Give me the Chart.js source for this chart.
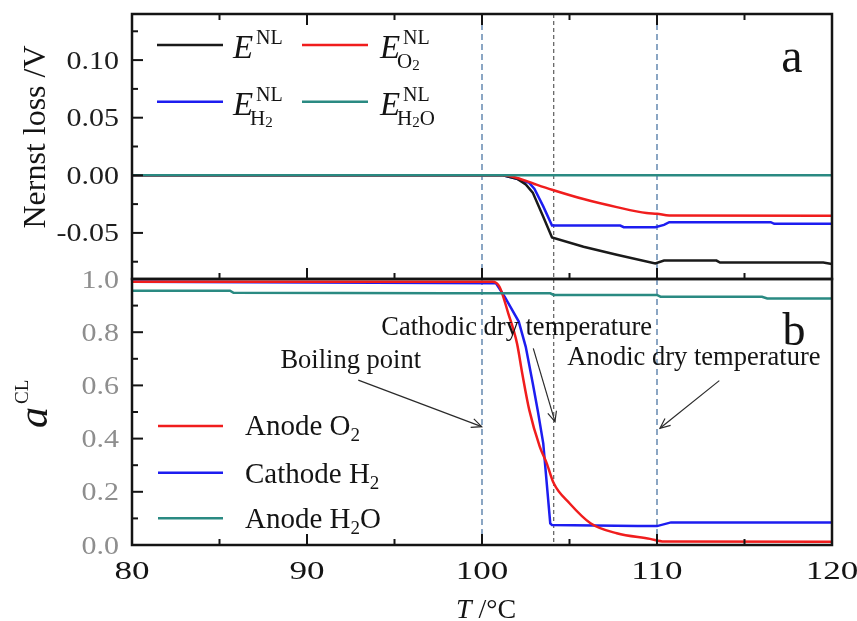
<!DOCTYPE html>
<html>
<head>
<meta charset="utf-8">
<script src="https://cdn.jsdelivr.net/npm/chart.js@4/dist/chart.umd.min.js"></script>
<style>
  html, body { margin: 0; padding: 0; background: #fff; }
  #wrap { position: relative; width: 857px; height: 621px; }
  #wrap canvas { position: absolute; left: 0; top: 0; }
</style>
</head>
<body>
<div id="wrap">
  <canvas id="panelA" width="857" height="621"></canvas>
  <canvas id="panelB" width="857" height="621"></canvas>
</div>
<script>
// ---- temperature axis ----
const tMin = 80, tMax = 120;
const xTicks = [80, 90, 100, 110, 120];
const markerTemps = [100, 104.1, 110];          // boiling point, cathodic dry, anodic dry

// ---- panel a: Nernst losses (V) ----
const nlTicks = [-0.05, 0.00, 0.05, 0.10];
const tENL  = [80, 101.2, 102.0, 102.5, 102.9, 103.5, 104.0, 105.8, 107.7, 109.9, 110.4, 113.4, 113.6, 119.5, 120];
const eNL   = [0, 0, -0.003, -0.008, -0.015, -0.036, -0.054, -0.062, -0.069, -0.0765, -0.074, -0.074, -0.0757, -0.0757, -0.077];
const tEO2  = [80, 101.2, 102.0, 103.0, 104.0, 105.8, 107.7, 109.4, 110.0, 110.7, 120];
const eO2   = [0, 0, -0.0023, -0.0075, -0.0125, -0.0206, -0.0276, -0.0328, -0.0334, -0.0349, -0.0352];
const tEH2  = [80, 101.2, 102.0, 102.7, 103.0, 103.5, 104.0, 107.9, 108.1, 109.9, 110.4, 110.7, 116.5, 116.7, 120];
const eH2   = [0, 0, -0.003, -0.0066, -0.0119, -0.027, -0.0436, -0.0436, -0.045, -0.045, -0.043, -0.0407, -0.0407, -0.0421, -0.0421];
const tEH2O = [80, 120];
const eH2O  = [0, 0];

// ---- panel b: activities in the catalyst layer ----
const aTicks = [0.0, 0.2, 0.4, 0.6, 0.8, 1.0];
const tAO2  = [80, 100.6, 101.0, 101.5, 102.0, 102.3, 102.7, 103.3, 103.7, 104.1, 105.0, 106.2, 107.7, 109.6, 110.4, 120];
const aO2   = [0.99, 0.99, 0.971, 0.871, 0.758, 0.645, 0.508, 0.37, 0.307, 0.232, 0.157, 0.082, 0.044, 0.023, 0.013, 0.012];
const tAH2  = [80, 100.8, 101.3, 102.1, 102.5, 102.9, 103.2, 103.5, 103.9, 104.0, 108.9, 110.0, 110.8, 120];
const aH2   = [0.99, 0.984, 0.933, 0.84, 0.745, 0.608, 0.5, 0.382, 0.0815, 0.075, 0.071, 0.071, 0.085, 0.085];
const tAH2O = [80, 85.6, 85.8, 98.0, 103.9, 104.1, 110.0, 110.2, 116.0, 116.3, 120];
const aH2O  = [0.956, 0.956, 0.948, 0.946, 0.946, 0.940, 0.940, 0.9335, 0.9335, 0.927, 0.927];

// ---- styling ----
const SERIF = "'Liberation Serif','Times New Roman',serif";
const INK = '#141414';
const C_BLACK = '#1a1a1a', C_RED = '#f01d1d', C_BLUE = '#1d1df0', C_TEAL = '#2a8a82';

const pts = (ts, vs) => ts.map((t, i) => ({ x: t, y: vs[i] }));

function minorsOf(major, lo, hi) {
  const out = [];
  const step = major[1] - major[0];
  for (let i = -1; i < major.length; i++) {
    const v = major[0] + (i + 0.5) * step;
    if (v > lo + 1e-9 && v < hi - 1e-9) out.push(+v.toFixed(4));
  }
  return out;
}

function txt(ctx, s, x, y, font, o = {}) {
  ctx.save();
  ctx.font = font;
  ctx.fillStyle = o.color || INK;
  ctx.textAlign = o.align || 'left';
  ctx.textBaseline = 'alphabetic';
  ctx.translate(x, y);
  if (o.rot) ctx.rotate(o.rot);
  ctx.scale(o.sx || 1, 1);
  ctx.fillText(s, 0, 0);
  ctx.restore();
}
function textW(ctx, s, font, sx = 1) {
  ctx.save(); ctx.font = font; const w = ctx.measureText(s).width; ctx.restore();
  return w * sx;
}

function seg(ctx, x1, y1, x2, y2) {
  ctx.beginPath(); ctx.moveTo(x1, y1); ctx.lineTo(x2, y2); ctx.stroke();
}

// frame, inward ticks and tick labels of a panel
function drawFrame(chart, cfg) {
  const { ctx, chartArea: a, scales } = chart;
  const xs = scales.x, ys = scales.y;
  ctx.save();
  ctx.strokeStyle = INK;
  ctx.lineWidth = 2;
  cfg.yMajor.forEach(v => { const p = ys.getPixelForValue(v); seg(ctx, a.left, p, a.left + 11, p); });
  cfg.yMinor.forEach(v => { const p = ys.getPixelForValue(v); seg(ctx, a.left, p, a.left + 6, p); });
  const xMinor = minorsOf(xTicks, tMin, tMax);
  cfg.xEdges.forEach(edge => {
    const py = edge === 'top' ? a.top : a.bottom;
    const d = edge === 'top' ? 1 : -1;
    xTicks.forEach(v => { const p = xs.getPixelForValue(v); seg(ctx, p, py, p, py + d * 11); });
    xMinor.forEach(v => { const p = xs.getPixelForValue(v); seg(ctx, p, py, p, py + d * 6); });
  });
  ctx.lineWidth = 2.5;
  ctx.strokeRect(a.left, a.top, a.right - a.left, a.bottom - a.top);
  ctx.restore();

  // y tick labels from the scale's own ticks
  const f = '25px ' + SERIF;
  ys.ticks.forEach(t => {
    const p = ys.getPixelForValue(t.value);
    txt(ctx, t.value.toFixed(cfg.decimals), 119, p + 8.5, f, { align: 'right', sx: 1.2, color: cfg.labelColor });
  });
}

function drawMarkers(chart) {
  const { ctx, chartArea: a, scales } = chart;
  ctx.save();
  markerTemps.forEach((t, i) => {
    const p = scales.x.getPixelForValue(t);
    ctx.strokeStyle = i === 1 ? '#3a3a3a' : '#5a80ab';
    ctx.lineWidth = i === 1 ? 1 : 1.4;
    ctx.setLineDash(i === 1 ? [4, 3] : [6, 4]);
    seg(ctx, p, a.top, p, a.bottom);
  });
  ctx.restore();
}

// E^NL with optional subscript pieces
function drawE(ctx, x, b, sub) {
  txt(ctx, 'E', x, b, 'italic 33px ' + SERIF);
  txt(ctx, 'NL', x + 23, b - 14, '20px ' + SERIF);
  let sx = x + 17;
  sub.forEach(([s, small]) => {
    const f = (small ? '15px ' : '21px ') + SERIF;
    txt(ctx, s, sx, b + (small ? 12 : 10), f);
    sx += textW(ctx, s, f);
  });
}

function arrow(ctx, x1, y1, x2, y2) {
  ctx.save();
  ctx.strokeStyle = '#2a2a2a';
  ctx.lineWidth = 1.2;
  seg(ctx, x1, y1, x2, y2);
  const ang = Math.atan2(y2 - y1, x2 - x1), L = 11, w = 0.42;
  ctx.beginPath();
  ctx.moveTo(x2 - L * Math.cos(ang - w), y2 - L * Math.sin(ang - w));
  ctx.lineTo(x2, y2);
  ctx.lineTo(x2 - L * Math.cos(ang + w), y2 - L * Math.sin(ang + w));
  ctx.stroke();
  ctx.restore();
}

// annotations in data coordinates of panel b
const notes = [
  { text: 'Boiling point',            t: 92.5,   a: 0.665, from: [92.93, 0.62],   to: [99.98, 0.445] },
  { text: 'Cathodic dry temperature', t: 101.98, a: 0.789, from: [102.93, 0.739], to: [104.17, 0.4636] },
  { text: 'Anodic dry temperature',   t: 112.11, a: 0.677, from: [113.56, 0.618], to: [110.17, 0.439] }
];

const commonOptions = (padding, yMin, yMax, yTickVals, xDisplay) => ({
  responsive: false,
  animation: false,
  devicePixelRatio: 1,
  events: [],
  layout: { padding },
  plugins: { legend: { display: false }, tooltip: { enabled: false }, title: { display: false } },
  elements: { point: { radius: 0 }, line: { borderWidth: 2.5, tension: 0 } },
  scales: {
    x: {
      type: 'linear', min: tMin, max: tMax, display: xDisplay,
      grid: { display: false, drawTicks: false }, border: { display: false },
      ticks: { display: false },
      afterBuildTicks: s => { s.ticks = xTicks.map(v => ({ value: v })); },
      afterFit: s => { if (xDisplay) s.height = 76; }
    },
    y: {
      type: 'linear', min: yMin, max: yMax,
      grid: { display: false, drawTicks: false }, border: { display: false },
      ticks: { display: false },
      afterBuildTicks: s => { s.ticks = yTickVals.map(v => ({ value: v })); },
      afterFit: s => { s.width = 132; }
    }
  }
});

// ---------- panel a ----------
const optA = commonOptions({ left: 0, top: 14, right: 25, bottom: 342 }, -0.09, 0.14, nlTicks, false);
new Chart(document.getElementById('panelA'), {
  type: 'line',
  data: {
    datasets: [
      { data: pts(tEH2O, eH2O), borderColor: C_TEAL },
      { data: pts(tEO2, eO2), borderColor: C_RED, cubicInterpolationMode: 'monotone' },
      { data: pts(tENL, eNL), borderColor: C_BLACK },
      { data: pts(tEH2, eH2), borderColor: C_BLUE }
    ]
  },
  options: optA,
  plugins: [{
    id: 'panelADecor',
    beforeDatasetsDraw: c => drawMarkers(c),
    afterDraw: c => {
      const ctx = c.ctx;
      drawFrame(c, { yMajor: nlTicks, yMinor: minorsOf(nlTicks, -0.09, 0.14), xEdges: ['top', 'bottom'], decimals: 2, labelColor: '#1e1e1e' });
      // axis title
      txt(ctx, 'Nernst loss /V', 45, 137, '32px ' + SERIF, { align: 'center', rot: -Math.PI / 2 });
      // legend
      ctx.save(); ctx.lineWidth = 2.5;
      [[C_BLACK, 157, 45], [C_RED, 302, 45], [C_BLUE, 157, 101.7], [C_TEAL, 302, 101.7]].forEach(([col, x, y]) => {
        ctx.strokeStyle = col; seg(ctx, x, y, x + 66, y);
      });
      ctx.restore();
      drawE(ctx, 233, 58, []);
      drawE(ctx, 380, 58, [['O', 0], ['2', 1]]);
      drawE(ctx, 233, 115, [['H', 0], ['2', 1]]);
      drawE(ctx, 380, 115, [['H', 0], ['2', 1], ['O', 0]]);
      txt(ctx, 'a', 792, 72, '48px ' + SERIF, { align: 'center' });
    }
  }]
});

// ---------- panel b ----------
const optB = commonOptions({ left: 0, top: 279, right: 25, bottom: 0 }, 0, 1, aTicks, true);
new Chart(document.getElementById('panelB'), {
  type: 'line',
  data: {
    datasets: [
      { data: pts(tAH2O, aH2O), borderColor: C_TEAL },
      { data: pts(tAO2, aO2), borderColor: C_RED, cubicInterpolationMode: 'monotone' },
      { data: pts(tAH2, aH2), borderColor: C_BLUE }
    ]
  },
  options: optB,
  plugins: [{
    id: 'panelBDecor',
    beforeDatasetsDraw: c => drawMarkers(c),
    afterDraw: c => {
      const ctx = c.ctx, xs = c.scales.x, ys = c.scales.y;
      drawFrame(c, { yMajor: aTicks, yMinor: minorsOf(aTicks, 0, 1), xEdges: ['bottom'], decimals: 1, labelColor: '#8e8e8e' });
      // x tick labels
      xs.ticks.forEach(t => {
        txt(ctx, String(t.value), xs.getPixelForValue(t.value), 579, '26px ' + SERIF, { align: 'center', sx: 1.35 });
      });
      // x title: T /°C
      const fT = 'italic 28px ' + SERIF, fR = '28px ' + SERIF;
      const wT = textW(ctx, 'T', fT), wR = textW(ctx, ' /°C', fR);
      const x0 = 486 - (wT + wR) / 2;
      txt(ctx, 'T', x0, 618, fT);
      txt(ctx, ' /°C', x0 + wT, 618, fR);
      // y title: a^CL
      ctx.save();
      ctx.translate(47, 428);
      ctx.rotate(-Math.PI / 2);
      txt(ctx, 'a', 0, 0, 'italic 42px ' + SERIF);
      txt(ctx, 'CL', 24, -19, '19px ' + SERIF);
      ctx.restore();
      // legend
      const fL = '29px ' + SERIF, fS = '19px ' + SERIF;
      ctx.save(); ctx.lineWidth = 2.5;
      [[C_RED, 426], [C_BLUE, 472.7], [C_TEAL, 518.3]].forEach(([col, y]) => {
        ctx.strokeStyle = col; seg(ctx, 158, y, 223, y);
      });
      ctx.restore();
      const lx = 245;
      txt(ctx, 'Anode O', lx, 435, fL);
      txt(ctx, '2', lx + textW(ctx, 'Anode O', fL), 441, fS);
      txt(ctx, 'Cathode H', lx, 483, fL);
      txt(ctx, '2', lx + textW(ctx, 'Cathode H', fL), 489, fS);
      txt(ctx, 'Anode H', lx, 528, fL);
      const w1 = textW(ctx, 'Anode H', fL);
      txt(ctx, '2', lx + w1, 534, fS);
      txt(ctx, 'O', lx + w1 + textW(ctx, '2', fS), 528, fL);
      // annotations with arrows
      const fN = '26.5px ' + SERIF;
      notes.forEach(n => {
        txt(ctx, n.text, xs.getPixelForValue(n.t), ys.getPixelForValue(n.a), fN, { align: 'center' });
        arrow(ctx, xs.getPixelForValue(n.from[0]), ys.getPixelForValue(n.from[1]),
                   xs.getPixelForValue(n.to[0]), ys.getPixelForValue(n.to[1]));
      });
      txt(ctx, 'b', 794, 345, '46px ' + SERIF, { align: 'center' });
    }
  }]
});
</script>
</body>
</html>
